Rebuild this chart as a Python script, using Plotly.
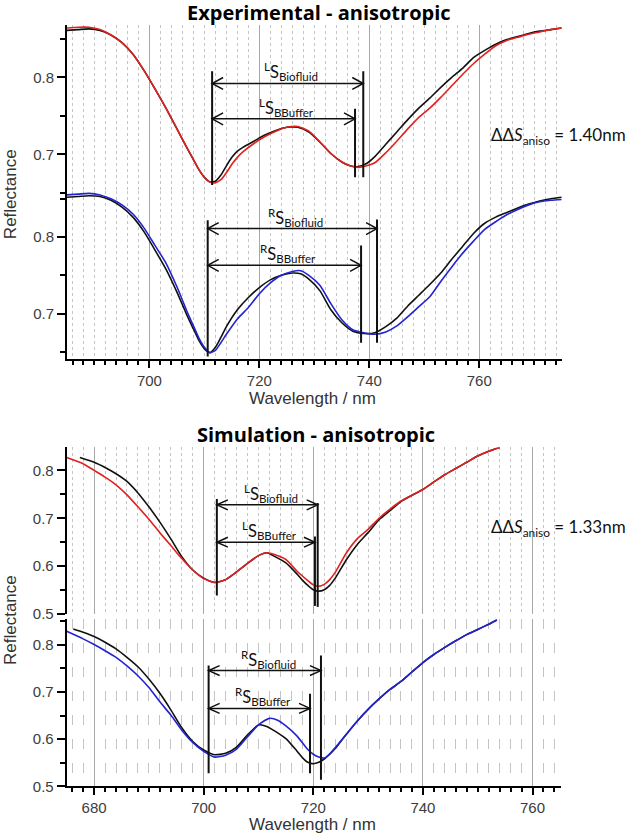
import plotly.graph_objects as go

# ---------------- data ----------------
# Experimental, top (L): red = buffer, black = biofluid
exp_top_wl = [685, 687, 689, 691, 693, 695, 697, 699, 701, 703, 705, 707,
              708, 709, 710, 711, 712, 713, 714, 715, 716, 717,
              719, 721, 723, 725, 727, 729, 731, 733, 735,
              736.5, 738, 739.5,
              741, 743, 745, 747, 749, 751, 753, 755, 757, 759, 761, 763, 765, 767, 769, 771, 773, 775]
exp_top_red = [0.864, 0.865, 0.865, 0.862, 0.855, 0.845, 0.830, 0.809, 0.785, 0.760, 0.733, 0.706,
               0.693, 0.680, 0.670, 0.664, 0.663, 0.667, 0.676, 0.687, 0.696, 0.703,
               0.714, 0.723, 0.730, 0.735, 0.736, 0.730, 0.716, 0.701, 0.690,
               0.685, 0.683, 0.685,
               0.689, 0.702, 0.717, 0.733, 0.748, 0.760, 0.774, 0.789, 0.804, 0.818, 0.830, 0.841,
               0.848, 0.852, 0.856, 0.859, 0.862, 0.864]
exp_top_black = [0.861, 0.862, 0.863, 0.861, 0.855, 0.845, 0.830, 0.809, 0.785, 0.760, 0.733, 0.706,
                 0.693, 0.680, 0.670, 0.664, 0.665, 0.673, 0.685, 0.696, 0.704, 0.709,
                 0.717, 0.725, 0.731, 0.735, 0.735, 0.729, 0.716, 0.701, 0.690,
                 0.685, 0.684, 0.688,
                 0.697, 0.713, 0.729, 0.745, 0.760, 0.773, 0.787, 0.800, 0.812, 0.826, 0.835, 0.843,
                 0.849, 0.853, 0.857, 0.860, 0.862, 0.864]

# Experimental, bottom (R): blue = buffer, black = biofluid
exp_bot_wl = [685, 687, 689, 691, 693, 695, 697, 699, 701, 703, 705, 707,
              708, 709, 710, 711, 712, 713, 714,
              716, 718, 720, 722, 724, 726,
              727.5,
              729, 731, 733, 735, 737, 739, 741, 743, 745, 747, 749, 751, 753, 755, 757, 759,
              761, 763, 765, 767, 769, 771, 773, 775]
exp_bot_blue = [0.855, 0.856, 0.857, 0.855, 0.850, 0.842, 0.830, 0.812, 0.789, 0.766, 0.735, 0.700,
                0.684, 0.668, 0.656, 0.649, 0.652, 0.662, 0.673,
                0.693, 0.708, 0.726, 0.740, 0.750, 0.755,
                0.756,
                0.750, 0.737, 0.713, 0.692, 0.679, 0.675, 0.673, 0.676, 0.684, 0.696, 0.709, 0.722,
                0.742, 0.761, 0.779, 0.795, 0.810, 0.820, 0.829, 0.836, 0.842, 0.846, 0.848, 0.849]
exp_bot_black = [0.852, 0.853, 0.854, 0.853, 0.848, 0.839, 0.826, 0.807, 0.783, 0.758, 0.728, 0.695,
                 0.680, 0.665, 0.654, 0.649, 0.656, 0.669, 0.683,
                 0.705, 0.721, 0.734, 0.744, 0.750, 0.753,
                 0.752,
                 0.745, 0.730, 0.705, 0.688, 0.677, 0.674, 0.675, 0.683, 0.694, 0.710, 0.724, 0.738,
                 0.753, 0.771, 0.788, 0.805, 0.818, 0.826, 0.832, 0.838, 0.843, 0.847, 0.850, 0.852]

# Simulation, top (L)
sim_top_red_wl = [675, 678, 680, 682, 684, 686, 688, 690, 692, 694, 696, 698, 700, 702, 704, 706,
                  708, 710, 711.5, 713, 715, 717, 719, 720, 721, 722, 723, 724, 726, 728, 730, 732,
                  734, 736, 738, 740, 742, 744, 746, 748, 750, 752, 754]
sim_top_red = [0.827, 0.814, 0.800, 0.786, 0.770, 0.749, 0.724, 0.698, 0.670, 0.643, 0.616, 0.592,
               0.574, 0.566, 0.572, 0.588, 0.606, 0.622, 0.628, 0.624, 0.614, 0.590, 0.570, 0.561,
               0.558, 0.562, 0.572, 0.587, 0.627, 0.657, 0.677, 0.700, 0.719, 0.736, 0.748, 0.760,
               0.776, 0.791, 0.804, 0.817, 0.830, 0.840, 0.848]
sim_top_black_wl = [677.4, 680, 682, 684, 686, 688, 690, 692, 694, 696, 698, 700, 702, 704, 706,
                    708, 710, 711.5, 713, 715, 717, 718, 719, 720, 721, 722, 723, 724, 726, 728,
                    730, 732, 734, 736, 738, 740, 742, 744, 746, 748, 750, 752, 754]
sim_top_black = [0.827, 0.817, 0.806, 0.793, 0.777, 0.753, 0.724, 0.692, 0.657, 0.620, 0.592, 0.575,
                 0.566, 0.572, 0.588, 0.606, 0.622, 0.628, 0.620, 0.607, 0.584, 0.571, 0.560, 0.551,
                 0.548, 0.551, 0.560, 0.575, 0.613, 0.645, 0.670, 0.697, 0.716, 0.735, 0.748, 0.760,
                 0.776, 0.791, 0.804, 0.817, 0.830, 0.840, 0.848]

# Simulation, bottom (R)
sim_bot_blue_wl = [675, 678, 680, 682, 684, 686, 688, 690, 692, 694, 696, 698, 700, 702, 704, 706,
                   708, 710, 712, 713.5, 715, 717, 719, 720, 721, 722, 723, 724, 726, 728, 730, 732,
                   734, 736, 738, 740, 742, 744, 746, 748, 750, 752, 753.5]
sim_bot_blue = [0.828, 0.812, 0.800, 0.787, 0.773, 0.755, 0.734, 0.709, 0.679, 0.651, 0.619, 0.593,
                0.574, 0.562, 0.566, 0.579, 0.605, 0.630, 0.644, 0.640, 0.628, 0.607, 0.578, 0.568,
                0.562, 0.560, 0.569, 0.582, 0.610, 0.638, 0.663, 0.685, 0.705, 0.722, 0.742, 0.762,
                0.779, 0.794, 0.808, 0.821, 0.832, 0.843, 0.852]
sim_bot_black_wl = [676.2, 678, 680, 682, 684, 686, 688, 690, 692, 694, 696, 698, 700, 702, 704,
                    706, 708, 710, 711.5, 713, 715, 717, 718, 719, 720, 721, 722, 723, 724, 726,
                    728, 730, 732, 734, 736, 738, 740, 742, 744, 746, 748, 750, 752, 753.5]
sim_bot_black = [0.833, 0.826, 0.817, 0.805, 0.791, 0.773, 0.753, 0.727, 0.697, 0.662, 0.624, 0.595,
                 0.577, 0.567, 0.570, 0.583, 0.609, 0.630, 0.627, 0.617, 0.601, 0.575, 0.561, 0.551,
                 0.548, 0.551, 0.558, 0.568, 0.580, 0.610, 0.638, 0.663, 0.685, 0.705, 0.722, 0.742,
                 0.762, 0.779, 0.794, 0.808, 0.821, 0.832, 0.843, 0.852]

# Shift markers: [left minimum, right minimum] wavelengths
exp_L_bio = [711.4, 738.9]
exp_L_buf = [711.4, 737.4]
exp_R_bio = [710.6, 741.4]
exp_R_buf = [710.6, 738.5]
sim_L_bio = [702.4, 720.8]
sim_L_buf = [702.4, 720.3]
sim_R_bio = [700.9, 721.4]
sim_R_buf = [700.9, 719.4]
# arrow heights [biofluid, buffer]
exp_L_arrow_y = [0.792, 0.746]
exp_R_arrow_y = [0.811, 0.763]
sim_L_arrow_y = [0.728, 0.650]
sim_R_arrow_y = [0.745, 0.665]
# vertical marker extents: [left line, right biofluid line, right buffer line]
exp_L_lines = [[0.660, 0.808], [0.670, 0.808], [0.670, 0.759]]
exp_R_lines = [[0.644, 0.822], [0.662, 0.823], [0.662, 0.789]]
sim_L_lines = [[0.539, 0.740], [0.515, 0.732], [0.517, 0.662]]
sim_R_lines = [[0.528, 0.756], [0.514, 0.777], [0.528, 0.696]]

titles = ["Experimental - anisotropic", "Simulation - anisotropic"]
dds_labels = ["1.40nm", "1.33nm"]

# ---------------- figure ----------------
W, H = 625, 839
RED, BLUE, BLACK = "#e0211f", "#2323d2", "#111111"
TICKFONT = dict(family="Liberation Sans, Arial", size=15, color="#3c3c3c")


def fy(py):
    return 1 - py / H


fig = go.Figure()


def add_line(x, y, color, xa, ya):
    fig.add_trace(go.Scatter(x=x, y=y, mode="lines", xaxis=xa, yaxis=ya,
                             line=dict(color=color, width=1.6, shape="spline", smoothing=0.6),
                             showlegend=False, hoverinfo="skip"))


add_line(exp_top_wl, exp_top_black, BLACK, "x", "y")
add_line(exp_top_wl, exp_top_red, RED, "x", "y")
add_line(exp_bot_wl, exp_bot_black, BLACK, "x2", "y2")
add_line(exp_bot_wl, exp_bot_blue, BLUE, "x2", "y2")
add_line(sim_top_black_wl, sim_top_black, BLACK, "x3", "y3")
add_line(sim_top_red_wl, sim_top_red, RED, "x3", "y3")
add_line(sim_bot_black_wl, sim_bot_black, BLACK, "x4", "y4")
add_line(sim_bot_blue_wl, sim_bot_blue, BLUE, "x4", "y4")

exp_xdom = [67 / W, 561.7 / W]
sim_xdom = [66.7 / W, 561 / W]


def xaxis(rng, dom, anchor, bottom, minor_dash="dot"):
    d = dict(range=rng, domain=dom, anchor=anchor, showgrid=True, gridcolor="#a8a8a8",
             gridwidth=1, dtick=20, tick0=0, zeroline=False, fixedrange=True,
             minor=dict(dtick=2, tick0=0, showgrid=True, gridcolor="#c4c4c4",
                        griddash=minor_dash, gridwidth=1))
    if bottom:
        d.update(showline=True, linecolor="black", linewidth=2, ticks="outside", ticklen=7,
                 tickwidth=1.5, tickcolor="black", showticklabels=True, tickfont=TICKFONT)
        d["minor"].update(ticks="outside", ticklen=4, tickwidth=1.5, tickcolor="black")
    else:
        d.update(showline=False, ticks="", showticklabels=False)
    return d


def yaxis(rng, pytop, pybot, anchor):
    return dict(range=rng, domain=[fy(pybot), fy(pytop)], anchor=anchor, showgrid=False,
                zeroline=False, showline=True, linecolor="black", linewidth=2,
                ticks="outside", ticklen=8, tickwidth=1.5, tickcolor="black", dtick=0.1,
                tick0=0, tickformat=".1f", tickfont=TICKFONT, fixedrange=True,
                minor=dict(dtick=0.05, tick0=0, ticks="outside", ticklen=5, tickwidth=1.5,
                           tickcolor="black", showgrid=False))


fig.update_layout(
    width=W, height=H, margin=dict(l=0, r=0, t=0, b=0),
    paper_bgcolor="white", plot_bgcolor="rgba(0,0,0,0)", showlegend=False,
    xaxis=xaxis([685, 775], exp_xdom, "y", False),
    yaxis=yaxis([0.65, 0.8683], 25, 194.6, "x"),
    xaxis2=xaxis([685, 775], exp_xdom, "y2", True),
    yaxis2=yaxis([0.6404, 0.8599], 193, 362.7, "x2"),
    xaxis3=xaxis([675, 765.2], sim_xdom, "y3", False),
    yaxis3=yaxis([0.5, 0.848], 451.7, 620, "x3"),
    xaxis4=xaxis([675, 765.2], sim_xdom, "y4", True, minor_dash="10px,14px"),
    yaxis4=yaxis([0.5, 0.854], 625, 794, "x4"),
)

shapes = []
annotations = []


def marker_group(xa, ya, bio, buf, arrow_y, lines, sup, px_per_x, px_per_y, head_len, head_h):
    xs = [bio[0], bio[1], buf[1]]
    for xv, (y0, y1) in zip(xs, lines):
        shapes.append(dict(type="line", xref=xa, yref=ya, x0=xv, x1=xv, y0=y0, y1=y1,
                           line=dict(color=BLACK, width=2)))
    dx = head_len / px_per_x
    dy = head_h / px_per_y
    for pair, yv, name in [(bio, arrow_y[0], "Biofluid"), (buf, arrow_y[1], "BBuffer")]:
        x0, x1 = pair
        shapes.append(dict(type="line", xref=xa, yref=ya, x0=x0, x1=x1, y0=yv, y1=yv,
                           line=dict(color=BLACK, width=1.5)))
        for xe, sgn in [(x0, 1), (x1, -1)]:
            path = f"M {xe + sgn * dx},{yv + dy} L {xe},{yv} L {xe + sgn * dx},{yv - dy}"
            shapes.append(dict(type="path", xref=xa, yref=ya, path=path,
                               line=dict(color=BLACK, width=1.5)))
        annotations.append(dict(x=(x0 + x1) / 2 + 0.6, y=yv, xref=xa, yref=ya,
                                text=f"<sup>{sup}</sup>S<sub>{name}</sub>", showarrow=False,
                                xanchor="center", yanchor="bottom", yshift=-2,
                                font=dict(family="Lato, Noto Sans", size=16.5, color=BLACK)))


marker_group("x", "y", exp_L_bio, exp_L_buf, exp_L_arrow_y, exp_L_lines, "L", 5.5, 777, 11, 6)
marker_group("x2", "y2", exp_R_bio, exp_R_buf, exp_R_arrow_y, exp_R_lines, "R", 5.5, 773, 11, 6)
marker_group("x3", "y3", sim_L_bio, sim_L_buf, sim_L_arrow_y, sim_L_lines, "L", 5.475, 485, 11, 5)
marker_group("x4", "y4", sim_R_bio, sim_R_buf, sim_R_arrow_y, sim_R_lines, "R", 5.475, 476, 11, 5)

# titles
for t, py, px in [(titles[0], 13, 319), (titles[1], 439, 316)]:
    annotations.append(dict(x=px / W, y=fy(py), xref="paper", yref="paper", text=f"<b>{t}</b>",
                            showarrow=False, xanchor="center", yanchor="middle", borderpad=0,
                            font=dict(family="Open Sans", size=20, color="black")))
# delta-delta labels
for lab, py in [(dds_labels[0], 137), (dds_labels[1], 533)]:
    annotations.append(dict(x=489 / W, y=fy(py), xref="paper", yref="paper",
                            text=f"ΔΔ<i>S</i><sub>aniso</sub> = {lab}", showarrow=False,
                            xanchor="left", yanchor="middle",
                            font=dict(family="Lato, Noto Sans", size=17, color="#111111")))
# axis titles
for py in [196, 626]:
    annotations.append(dict(x=10 / W, y=fy(py), xref="paper", yref="paper", text="Reflectance",
                            textangle=-90, showarrow=False, xanchor="center", yanchor="middle",
                            font=dict(family="Liberation Sans, Arial", size=17, color="#333333")))
for py in [402, 832]:
    annotations.append(dict(x=312 / W, y=fy(py), xref="paper", yref="paper",
                            text="Wavelength / nm", showarrow=False, xanchor="center",
                            yanchor="middle", borderpad=0,
                            font=dict(family="Liberation Sans, Arial", size=17, color="#333333")))

fig.update_layout(shapes=shapes, annotations=annotations)
fig.write_html("out.html", config={"displayModeBar": False},
               post_script="document.body.style.margin='0px';")
